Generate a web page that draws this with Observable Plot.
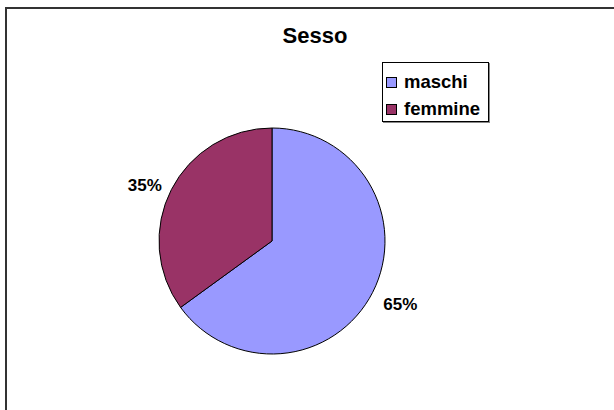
<!DOCTYPE html>
<html>
<head>
<meta charset="utf-8">
<script src="https://cdn.jsdelivr.net/npm/d3@7"></script>
<script src="https://cdn.jsdelivr.net/npm/@observablehq/plot@0.6"></script>
<style>
  html, body { margin: 0; padding: 0; background: #fff; overflow: hidden; width: 614px; height: 410px; }
  body { position: relative; font-family: "Liberation Sans", Arial, Helvetica, sans-serif; }
  #frame { position: absolute; left: 5px; top: 7px; width: 700px; height: 500px; border: 2px solid #333; box-sizing: border-box; }
  #chart { position: absolute; left: 0; top: 0; }
  #title { position: absolute; left: 215px; width: 200px; top: 23px; text-align: center; font-weight: bold; font-size: 22px; color: #000; }
  #legend { position: absolute; left: 382px; top: 62px; width: 107px; height: 60px; border: 1px solid #000; box-sizing: border-box; background: #fff; box-shadow: 1px 1px 0 #888; }
  .item { position: absolute; left: 3px; height: 20px; font-weight: bold; font-size: 18.5px; line-height: 20px; white-space: nowrap; }
  .sw { display: inline-block; width: 9px; height: 9px; border: 1px solid #000; margin-right: 7px; vertical-align: 0px; }
</style>
</head>
<body>
<div id="frame"></div>
<div id="chart"></div>
<div id="title"></div>
<div id="legend"></div>
<script>
const title = "Sesso";
const categories = ["maschi", "femmine"];
const values = [65, 35];
const labels = ["65%", "35%"];
const colors = ["#9999FF", "#993366"];

const pie = d3.pie().sort(null).value(d => d.value);
const data = categories.map((c, i) => ({category: c, value: values[i], label: labels[i], color: colors[i]}));
const arcs = pie(data);

const labelR = 1.1;
const labelData = arcs.map(a => {
  const m = (a.startAngle + a.endAngle) / 2;
  return {x: labelR * Math.sin(m), y: labelR * Math.cos(m), text: a.data.label,
          right: Math.sin(m) >= 0, lower: Math.cos(m) < 0};
});

function pieMark(index, scales, values, dimensions, context) {
  const cx = scales.x(0), cy = scales.y(0);
  const r = scales.x(1) - scales.x(0);
  const arc = d3.arc().innerRadius(0).outerRadius(r);
  const g = d3.create("svg:g").attr("transform", `translate(${cx},${cy})`);
  g.selectAll("path").data(arcs).join("path")
    .attr("d", arc)
    .attr("fill", d => d.data.color)
    .attr("stroke", "#000")
    .attr("stroke-width", 1);
  return g.node();
}

const labelMarks = labelData.map(d => Plot.text([d], {
  x: "x", y: "y", text: "text",
  textAnchor: d.right ? "start" : "end",
  lineAnchor: d.lower ? "top" : "middle",
  fontSize: 17, fontWeight: "bold", fill: "#000"
}));

const chart = Plot.plot({
  width: 614,
  height: 410,
  margin: 0,
  style: {background: "transparent", fontFamily: "'Liberation Sans', Arial, sans-serif"},
  x: {domain: [-1, 1], range: [159, 385], axis: null},
  y: {domain: [-1, 1], range: [354, 128], axis: null},
  marks: [pieMark, ...labelMarks]
});
document.getElementById("chart").append(chart);

document.getElementById("title").textContent = title;
const legend = document.getElementById("legend");
categories.forEach((c, i) => {
  const item = document.createElement("div");
  item.className = "item";
  item.style.top = (9 + i * 27) + "px";
  const sw = document.createElement("span");
  sw.className = "sw";
  sw.style.background = colors[i];
  item.append(sw, document.createTextNode(c));
  legend.append(item);
});
</script>
</body>
</html>
